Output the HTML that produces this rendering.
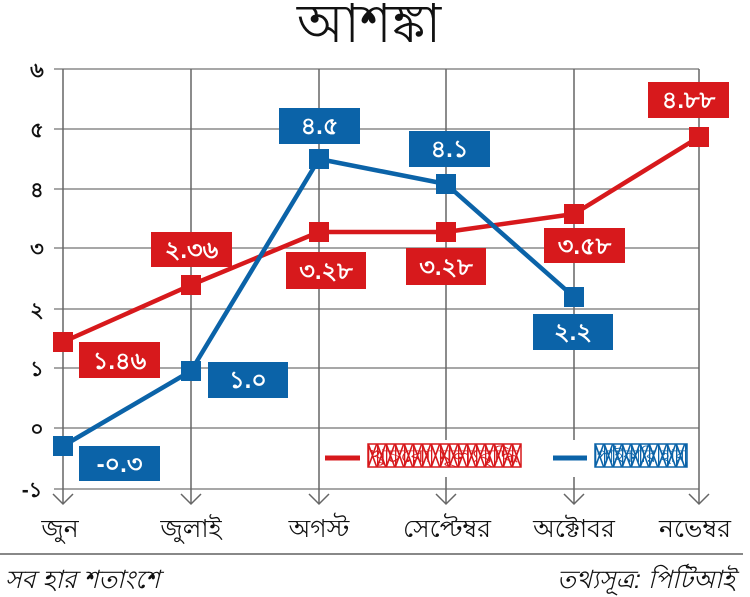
<!DOCTYPE html>
<html><head><meta charset="utf-8"><style>
html,body{margin:0;padding:0;background:#fff;}
body{width:750px;height:597px;overflow:hidden;}
svg{display:block;font-family:"Liberation Sans","DejaVu Sans",sans-serif;}
</style></head><body>
<svg width="750" height="597" viewBox="0 0 750 597" xmlns="http://www.w3.org/2000/svg">
<defs>
<pattern id="hr" width="9" height="23" patternUnits="userSpaceOnUse" x="368" y="444">
<rect width="9" height="23" fill="#fff"/>
<path d="M0.5 0.5 L8.5 22.5 M8.5 0.5 L0.5 22.5 M0.5 0 V23" stroke="#d7191c" stroke-width="1.6" fill="none"/>
</pattern>
<pattern id="hb" width="9" height="23" patternUnits="userSpaceOnUse" x="595" y="444">
<rect width="9" height="23" fill="#fff"/>
<path d="M0.5 0.5 L8.5 22.5 M8.5 0.5 L0.5 22.5 M0.5 0 V23" stroke="#0b63a8" stroke-width="1.6" fill="none"/>
</pattern>
</defs>
<rect width="750" height="597" fill="#fff"/>
<!-- title -->
<text x="369" y="42" font-size="54" text-anchor="middle" fill="#111">আশঙ্কা</text>
<!-- horizontal grid -->
<g stroke="#8a8a8a" stroke-width="1.5">
<line x1="54" y1="69" x2="699" y2="69"/>
<line x1="54" y1="129" x2="699" y2="129"/>
<line x1="54" y1="189" x2="699" y2="189"/>
<line x1="54" y1="248" x2="699" y2="248"/>
<line x1="54" y1="309" x2="699" y2="309"/>
<line x1="54" y1="368" x2="699" y2="368"/>
<line x1="54" y1="428" x2="699" y2="428"/>
<line x1="54" y1="489" x2="699" y2="489"/>
</g>
<!-- vertical grid + arrows -->
<g stroke="#666" stroke-width="1.5" fill="none">
<line x1="63" y1="69" x2="63" y2="504"/>
<line x1="191" y1="69" x2="191" y2="504"/>
<line x1="319" y1="69" x2="319" y2="504"/>
<line x1="446" y1="69" x2="446" y2="504"/>
<line x1="574" y1="69" x2="574" y2="504"/>
<line x1="699" y1="69" x2="699" y2="504"/>
<polyline points="53,494 63,504 73,494"/>
<polyline points="181,494 191,504 201,494"/>
<polyline points="309,494 319,504 329,494"/>
<polyline points="436,494 446,504 456,494"/>
<polyline points="564,494 574,504 584,494"/>
<polyline points="689,494 699,504 709,494"/>
</g>
<!-- y labels -->
<g font-size="21" font-weight="bold" text-anchor="middle" fill="#111">
<text x="37" y="77">৬</text>
<text x="37" y="137">৫</text>
<text x="37" y="197">৪</text>
<text x="37" y="256">৩</text>
<text x="37" y="317">২</text>
<text x="37" y="376">১</text>
<text x="37" y="436">০</text>
<text x="32" y="497">-১</text>
</g>
<!-- legend background -->
<rect x="322" y="440" width="368" height="37" fill="#fff"/>
<line x1="325" y1="458" x2="360" y2="458" stroke="#d7191c" stroke-width="5"/>
<rect x="368" y="444" width="153" height="23" fill="url(#hr)" stroke="#d7191c" stroke-width="1.5"/>
<text x="370" y="462" font-size="18" fill="#d7191c" textLength="149" lengthAdjust="spacingAndGlyphs">খুচরো মূল্যবৃদ্ধি</text>
<line x1="553" y1="458" x2="587" y2="458" stroke="#0b63a8" stroke-width="5"/>
<rect x="595" y="444" width="92" height="23" fill="url(#hb)" stroke="#0b63a8" stroke-width="1.5"/>
<text x="597" y="462" font-size="18" fill="#0b63a8" textLength="88" lengthAdjust="spacingAndGlyphs">পাইকারি হার</text>
<!-- red series -->
<polyline points="63,342 191,285 319,232 446,232 574,214 699,137" fill="none" stroke="#d7191c" stroke-width="4.5" stroke-linejoin="round"/>
<g fill="#d7191c">
<rect x="53" y="332" width="20" height="20"/>
<rect x="181" y="275" width="20" height="20"/>
<rect x="309" y="222" width="20" height="20"/>
<rect x="436" y="222" width="20" height="20"/>
<rect x="564" y="204" width="20" height="20"/>
<rect x="689" y="127" width="20" height="20"/>
</g>
<!-- blue series -->
<polyline points="63,446 191,371 319,159 446,184 574,297" fill="none" stroke="#0b63a8" stroke-width="4.5" stroke-linejoin="round"/>
<g fill="#0b63a8">
<rect x="53" y="436" width="20" height="20"/>
<rect x="181" y="361" width="20" height="20"/>
<rect x="309" y="149" width="20" height="20"/>
<rect x="436" y="174" width="20" height="20"/>
<rect x="564" y="287" width="20" height="20"/>
</g>
<!-- red labels -->
<g fill="#d7191c">
<rect x="79" y="342" width="81" height="36"/>
<rect x="151" y="232" width="81" height="35"/>
<rect x="286" y="252" width="80" height="37"/>
<rect x="406" y="248" width="80" height="37"/>
<rect x="544" y="228" width="81" height="35"/>
<rect x="648" y="82" width="81" height="36"/>
</g>
<!-- blue labels -->
<g fill="#0b63a8">
<rect x="79" y="446" width="81" height="35"/>
<rect x="208" y="362" width="80" height="36"/>
<rect x="279" y="108" width="81" height="36"/>
<rect x="409" y="131" width="81" height="36"/>
<rect x="533" y="314" width="80" height="36"/>
</g>
<g font-size="24" font-weight="bold" fill="#fff" text-anchor="middle">
<text x="119.5" y="369">১.৪৬</text>
<text x="191.5" y="258">২.৩৬</text>
<text x="326" y="279">৩.২৮</text>
<text x="446" y="275">৩.২৮</text>
<text x="584.5" y="254">৩.৫৮</text>
<text x="688.5" y="108">৪.৮৮</text>
<text x="119.5" y="472">-০.৩</text>
<text x="248" y="388">১.০</text>
<text x="319.5" y="134">৪.৫</text>
<text x="449.5" y="157">৪.১</text>
<text x="573" y="340">২.২</text>
</g>
<!-- x labels -->
<g font-size="25" text-anchor="middle" fill="#111">
<text x="60" y="537">জুন</text>
<text x="191" y="537">জুলাই</text>
<text x="319" y="537">অগস্ট</text>
<text x="447" y="537">সেপ্টেম্বর</text>
<text x="574" y="537">অক্টোবর</text>
<text x="695" y="537">নভেম্বর</text>
</g>
<line x1="0" y1="554" x2="743" y2="554" stroke="#888" stroke-width="2"/>
<text x="5" y="588" font-size="25" font-style="italic" fill="#111">সব হার শতাংশে</text>
<text x="735" y="588" font-size="25" font-style="italic" fill="#111" text-anchor="end">তথ্যসূত্র: পিটিআই</text>
</svg>
</body></html>
